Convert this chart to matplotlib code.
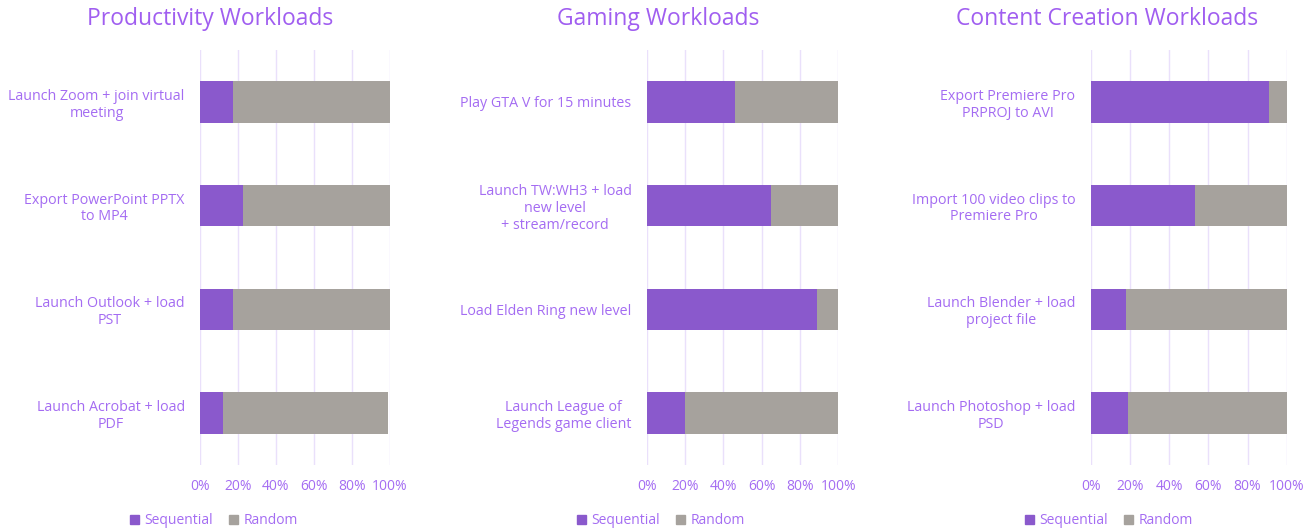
import matplotlib
matplotlib.use("Agg")
import matplotlib.pyplot as plt
from matplotlib.patches import Patch

plt.rcParams['font.family'] = ['Open Sans', 'DejaVu Sans']

titles = ["Productivity Workloads", "Gaming Workloads", "Content Creation Workloads"]

prod_labels = ["Launch Zoom + join virtual\nmeeting", "Export PowerPoint PPTX\nto MP4",
               "Launch Outlook + load\nPST", "Launch Acrobat + load\nPDF"]
prod_seq = [17.5, 22.5, 17.5, 12]
prod_rand = [82.5, 77.5, 82.5, 87]

game_labels = ["Play GTA V for 15 minutes", "Launch TW:WH3 + load\nnew level\n+ stream/record",
               "Load Elden Ring new level", "Launch League of\nLegends game client"]
game_seq = [46, 65, 89, 20]
game_rand = [54, 35, 11, 80]

cc_labels = ["Export Premiere Pro\nPRPROJ to AVI", "Import 100 video clips to\nPremiere Pro",
             "Launch Blender + load\nproject file", "Launch Photoshop + load\nPSD"]
cc_seq = [91, 53, 18, 19]
cc_rand = [9, 47, 82, 81]

xticks = [0, 20, 40, 60, 80, 100]
xticklabels = ["0%", "20%", "40%", "60%", "80%", "100%"]

SEQ_C = "#8A59CC"
RAND_C = "#A6A29D"
TXT_C = "#A46CF2"
TITLE_C = "#A05EF0"
GRID_C = "#EAE0FB"

W, H = 1312, 531
fig = plt.figure(figsize=(W / 100, H / 100), dpi=100)

panels = [
    (prod_labels, prod_seq, prod_rand, 200, 190, 210),
    (game_labels, game_seq, game_rand, 646.7, 191.6, 658),
    (cc_labels, cc_seq, cc_rand, 1090.7, 196, 1107),
]
leg_cx = [214, 661, 1109]

top_px, bot_px = 50, 465
for i, (labels, seq, rnd, x0, w, cx) in enumerate(panels):
    ax = fig.add_axes([x0 / W, 1 - bot_px / H, w / W, (bot_px - top_px) / H])
    y = list(range(len(labels)))
    ax.barh(y, seq, height=0.4, color=SEQ_C, zorder=3)
    ax.barh(y, rnd, left=seq, height=0.4, color=RAND_C, zorder=3)
    ax.set_ylim(3.5, -0.5)
    ax.set_xlim(0, 100)
    ax.set_xticks(xticks)
    ax.set_xticklabels(xticklabels, fontsize=10, color=TXT_C)
    ax.set_yticks(y)
    ax.set_yticklabels(labels, fontsize=10.3, color=TXT_C, multialignment='center',
                       linespacing=1.15)
    ax.tick_params(length=0, pad=11)
    ax.tick_params(axis='x', pad=10)
    for sp in ax.spines.values():
        sp.set_visible(False)
    ax.grid(axis='x', color=GRID_C, linewidth=1, zorder=0)
    ax.margins(x=0)
    ax.set_axisbelow(True)
    fig.text(cx / W, 1 - 19 / H, titles[i], ha='center', va='center',
             fontsize=16.5, color=TITLE_C, fontweight='medium')
    handles = [Patch(color=SEQ_C, label="Sequential"), Patch(color=RAND_C, label="Random")]
    leg = fig.legend(handles=handles, loc='center', bbox_to_anchor=(leg_cx[i] / W, 1 - 521 / H),
                     ncol=2, frameon=False, fontsize=10, handlelength=0.6, handleheight=0.6,
                     handletextpad=0.4, columnspacing=1.2)
    for t in leg.get_texts():
        t.set_color(TXT_C)

fig.savefig("out.png", dpi=100)
